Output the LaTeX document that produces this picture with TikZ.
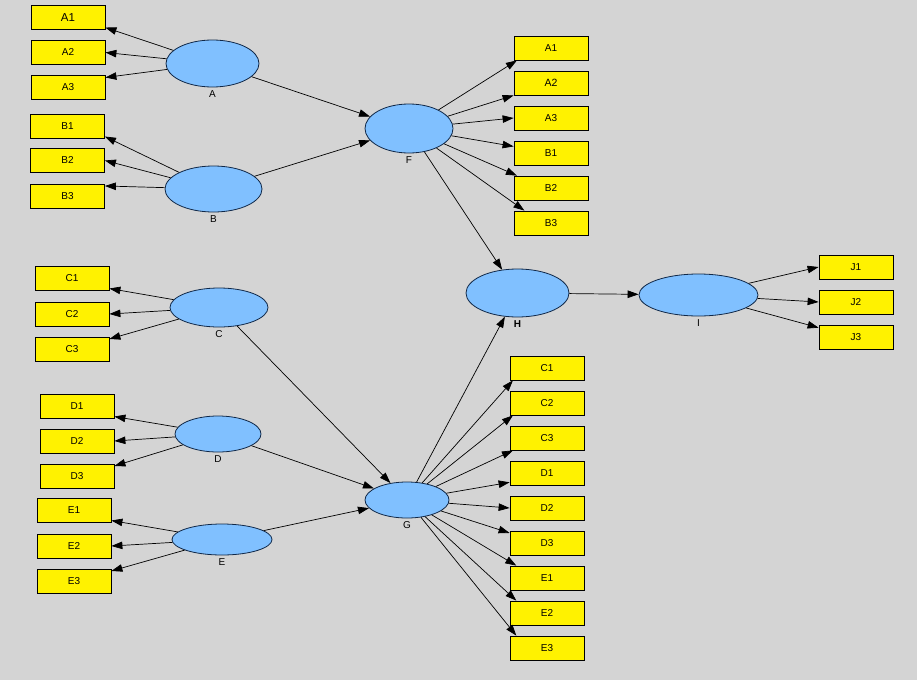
\documentclass[tikz,border=0pt]{standalone}
\usepackage{fontspec}
\setmainfont{Liberation Sans}
\usetikzlibrary{shapes.geometric, arrows.meta}
\definecolor{bggray}{RGB}{212,212,212}
\definecolor{latentblue}{RGB}{128,192,255}
\definecolor{rimblue}{RGB}{16,40,72}

\begin{document}
\begin{tikzpicture}[x=1pt, y=-1pt,
    box/.style={draw=black, fill=yellow, line width=0.8pt, minimum width=74pt, minimum height=24pt, inner sep=0pt, font=\fontsize{10}{12}\selectfont},
    latent/.style={ellipse, draw=rimblue, fill=latentblue, line width=0.8pt, inner sep=0pt, label distance=1pt},
    lbl/.style={font=\fontsize{10}{11}\selectfont},
    link/.style={draw=black, line width=0.7pt, -{Triangle[length=11pt,width=7.5pt]}}]
        \fill[bggray] (0,0) rectangle (917,680);

        % latent variables
        \node[latent, minimum width=93pt, minimum height=47pt, label={[lbl]below:A}] (a) at (212.5,63.5) {};
        \node[latent, minimum width=97pt, minimum height=46pt, label={[lbl]below:B}] (b) at (213.5,189) {};
        \node[latent, minimum width=98pt, minimum height=39pt, label={[lbl]below:C}] (c) at (219,307.5) {};
        \node[latent, minimum width=86pt, minimum height=36pt, label={[lbl]below:D}] (d) at (218,434) {};
        \node[latent, minimum width=100pt, minimum height=31pt, label={[lbl]below:E}] (e) at (222,539.5) {};
        \node[latent, minimum width=88pt, minimum height=49pt, label={[lbl]below:F}] (f) at (409,128.5) {};
        \node[latent, minimum width=84pt, minimum height=36pt, label={[lbl]below:G}] (g) at (407,500) {};
        \node[latent, minimum width=103pt, minimum height=48pt, label={[lbl,font=\fontsize{10}{11}\selectfont\bfseries]below:H}] (h) at (517.5,293) {};
        \node[latent, minimum width=119pt, minimum height=42pt, label={[lbl]below:I}] (i) at (698.5,295) {};

        % indicators, left
        \node[box, font=\fontsize{11.5}{13}\selectfont] (a1) at (68,17.5) {A1};
        \node[box] (a2) at (68,52.5) {A2};
        \node[box] (a3) at (68,87.5) {A3};
        \node[box] (b1) at (67.5,126.5) {B1};
        \node[box] (b2) at (67.5,160.5) {B2};
        \node[box] (b3) at (67.5,196) {B3};
        \node[box] (c1) at (72,278.5) {C1};
        \node[box] (c2) at (72,314) {C2};
        \node[box] (c3) at (72,349) {C3};
        \node[box] (d1) at (77,406.5) {D1};
        \node[box] (d2) at (77,441) {D2};
        \node[box] (d3) at (77,476) {D3};
        \node[box] (e1) at (74,510.5) {E1};
        \node[box] (e2) at (74,546) {E2};
        \node[box] (e3) at (74,581) {E3};

        % indicators of F
        \node[box] (fa1) at (551,48) {A1};
        \node[box, font=\fontsize{10.5}{12}\selectfont] (fa2) at (551,83) {A2};
        \node[box] (fa3) at (551,118) {A3};
        \node[box] (fb1) at (551,153) {B1};
        \node[box] (fb2) at (551,188) {B2};
        \node[box] (fb3) at (551,223) {B3};

        % indicators of G
        \node[box] (gc1) at (547,368) {C1};
        \node[box] (gc2) at (547,403) {C2};
        \node[box] (gc3) at (547,438) {C3};
        \node[box] (gd1) at (547,473) {D1};
        \node[box] (gd2) at (547,508) {D2};
        \node[box] (gd3) at (547,543) {D3};
        \node[box] (ge1) at (547,578) {E1};
        \node[box] (ge2) at (547,613) {E2};
        \node[box] (ge3) at (547,648) {E3};

        % indicators of I
        \node[box] (j1) at (856,267) {J1};
        \node[box] (j2) at (856,302) {J2};
        \node[box] (j3) at (856,337) {J3};

        % arrows
        \foreach \v in {a,b,c,d,e} {
            \draw[link] (\v) -- (\v1.-15);
            \draw[link] (\v) -- (\v2.east);
            \draw[link] (\v) -- (\v3.15);
        }
        \foreach \n/\ang in {fa1/-160, fa2/south west, fa3/west, fb1/170, fb2/160, fb3/155}
            \draw[link] (f) -- (\n.\ang);
        \foreach \n/\ang in {gc1/-160, gc2/-160, gc3/-160, gd1/-166, gd2/west, gd3/165, ge1/158, ge2/158, ge3/158}
            \draw[link] (g) -- (\n.\ang);
        \draw[link] (a) -- (f.163);
        \draw[link] (b) -- (f.197);
        \draw[link] (c) -- (g);
        \draw[link] (d) -- (g);
        \draw[link] (e) -- (g);
        \draw[link] (f) -- (h);
        \draw[link] (g) -- (h);
        \draw[link] (h) -- (i);
        \draw[link] (i) -- (j1.west);
        \draw[link] (i) -- (j2.west);
        \draw[link] (i) -- (j3.166);
\end{tikzpicture}
\end{document}
